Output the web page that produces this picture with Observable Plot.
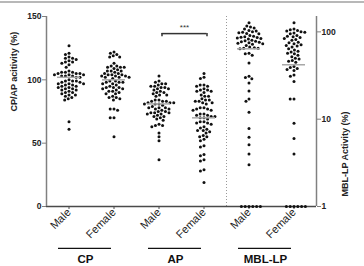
<!DOCTYPE html>
<html>
<head>
<meta charset="utf-8">
<script src="https://cdn.jsdelivr.net/npm/d3@7"></script>
<script src="https://cdn.jsdelivr.net/npm/@observablehq/plot@0.6"></script>
<style>
  body { margin: 0; background: #fff; }
  #wrap { position: relative; width: 364px; height: 266px; overflow: hidden; }
  #topline { position: absolute; left: 0; top: 1px; width: 364px; height: 2px; background: #b8b8b8; }
  #chart { position: absolute; left: 0; top: 0; }
</style>
</head>
<body>
<div id="wrap"><div id="topline"></div><div id="chart"></div></div>
<script>
// Individual activities (%) per pathway and sex
const cpMale = [127, 121, 120,
  118, 117, 117, 116, 115, 114, 114, 113, 112, 110,
  107, 106, 106, 106, 105, 105, 105, 104, 104, 104, 103, 103, 103, 102, 102,
  100, 99, 99, 99, 98, 98, 97, 97, 97, 96, 96, 95, 95, 94, 94, 93, 93, 92, 92, 91, 90, 90, 89, 88, 88, 87, 86, 85, 84,
  67, 61];
const cpFemale = [122, 121, 120, 119, 118, 118,
  113,
  111, 111, 110, 110, 110, 109,
  108, 107, 107, 107, 106,
  105, 105, 104, 104, 104, 103, 103, 103, 102, 102, 102, 101,
  99, 99, 98, 98, 98, 97, 97, 96,
  95, 94, 94, 94, 93, 93, 92,
  91, 91, 90, 89, 89,
  87, 86, 86, 85, 84,
  77, 77, 76,
  70, 70,
  55];
const apMale = [103,
  99, 98, 97, 97, 96,
  95, 95, 94, 94, 93, 93,
  92, 91, 90, 90, 89, 88, 88, 87,
  84, 84, 83, 83, 83, 82, 82, 82, 81, 81, 81, 80,
  79, 78, 78, 78, 77, 77, 76,
  75, 75, 74, 74, 74, 73, 73,
  72, 71, 71, 70, 69, 68,
  65, 64, 64, 63,
  58, 55, 52, 37];
const apFemale = [105,
  102, 101,
  96, 96, 95, 95,
  93, 92, 92, 91, 91, 90,
  88, 87, 87,
  85, 84, 84, 83, 83, 82, 82, 81,
  78, 78, 77, 77, 76, 76,
  73, 73, 72, 72, 71, 71, 70, 70, 69,
  67, 67, 66, 66, 65,
  63, 62, 61, 60, 60, 59, 58,
  56, 55, 55, 53, 52,
  48, 47,
  41, 40,
  37, 36,
  29, 28,
  19];
const mblMale = [127,
  117, 114, 111, 108,
  104, 102, 100, 99, 98, 96, 95,
  91, 89, 88, 87, 86, 85, 84, 83,
  80, 79, 78, 77, 76, 75, 74, 73, 72, 70,
  67, 66, 65, 65, 64,
  57, 56, 54, 44,
  31, 30, 29, 26, 21, 17, 16, 12,
  7.8, 6.2, 5.1, 4.0, 3.0,
  1, 1, 1, 1, 1, 1];
const mblFemale = [127,
  108, 106, 104, 102, 100, 99, 97, 95,
  91, 89, 88, 86, 84, 82, 80,
  76, 75, 73, 71, 70, 69, 67,
  64, 62, 60, 59, 57, 56,
  54, 52, 50, 49, 47, 46, 45,
  40, 39, 38, 37, 36,
  32, 31, 27,
  17, 17,
  9, 6, 4,
  1, 1, 1, 1, 1, 1];

// Group means (horizontal grey lines), same order as the series below
const means = [102, 100, 81, 70, 64, 42];

const groups = ["CP", "AP", "MBL-LP"];
const sexes = ["Male", "Female"];
const leftTicks = [0, 50, 100, 150];
const mblTicks = [1, 10, 100];

// MBL-LP is read on a log axis (1–150) that shares the 0–150 frame
const L = Math.log10(150);
const toPos = v => 150 * Math.log10(v) / L;
const fromPos = p => Math.pow(10, p * L / 150);

const series = [
  {group: "CP", sex: "Male", values: cpMale, log: false},
  {group: "CP", sex: "Female", values: cpFemale, log: false},
  {group: "AP", sex: "Male", values: apMale, log: false},
  {group: "AP", sex: "Female", values: apFemale, log: false},
  {group: "MBL-LP", sex: "Male", values: mblMale, log: true},
  {group: "MBL-LP", sex: "Female", values: mblFemale, log: true}
];
const keyOf = (g, s) => g + "|" + s;
const keys = groups.flatMap(g => sexes.map(s => keyOf(g, s)));

const points = series.flatMap(s => s.values.map(v => ({
  key: keyOf(s.group, s.sex), value: v, pos: s.log ? toPos(v) : v
})));
const meanRows = series.map((s, i) => ({
  key: keyOf(s.group, s.sex), pos: s.log ? toPos(means[i]) : means[i]
}));
const groupRows = groups.map(g => ({key: keyOf(g, "Male"), label: g}));

// annotation levels in y units (below the baseline for group labels)
const underlineLevel = -33;
const groupLabelLevel = -41.5;
const sigLevel = 136.5;
const starLevel = 141;

const chart = Plot.plot({
  width: 364,
  height: 266,
  marginTop: 16,
  marginBottom: 60,
  marginLeft: 46,
  marginRight: 48,
  style: {fontFamily: "'Liberation Sans', Arial, sans-serif", fontSize: "9px", color: "#222", background: "transparent"},
  fx: {domain: keys, padding: 0},
  x: {domain: [0, 1], axis: null},
  y: {domain: [0, 150]},
  marks: [
    // dotted separator before the MBL-LP panel
    Plot.ruleX([keyOf("MBL-LP", "Male")], {fx: d => d, x: () => 0, stroke: "#999", strokeDasharray: "1,2"}),
    // baseline
    Plot.ruleY([0], {stroke: "#4a4a4a", strokeWidth: 1.5}),
    // left and right axis lines
    Plot.ruleX([keys[0]], {fx: d => d, x: () => 0, stroke: "#808080", strokeWidth: 1.5}),
    Plot.ruleX([keys[5]], {fx: d => d, x: () => 1, stroke: "#808080", strokeWidth: 1.5}),
    Plot.axisY({anchor: "left", ticks: leftTicks, tickSize: 4, tickPadding: 1, fontWeight: "bold", fontSize: 8.5, stroke: "#808080", fill: "#222", label: null}),
    Plot.axisY({anchor: "right", ticks: mblTicks.map(toPos), tickFormat: p => String(Math.round(fromPos(p))), tickSize: 4, tickPadding: 1, fontWeight: "bold", fontSize: 8.5, stroke: "#808080", fill: "#222", label: null}),
    Plot.axisFx({anchor: "bottom", tickRotate: -45, tickFormat: k => k.split("|")[1], tickSize: 3, tickPadding: 1, fontSize: 11, stroke: "#4a4a4a", fill: "#222", label: null}),
    // axis titles
    Plot.text([keys[0]], {fx: d => d, frameAnchor: "left", dx: -32, rotate: -90, text: () => "CP/AP acitivity (%)", fontWeight: "bold", fontSize: 9, fill: "#222"}),
    Plot.text([keys[5]], {fx: d => d, frameAnchor: "right", dx: 29, rotate: -90, text: () => "MBL-LP Activity (%)", fontWeight: "bold", fontSize: 9, fill: "#222"}),
    // individual values
    Plot.dot(points, Plot.dodgeX({anchor: "middle", padding: 0.8}, {y: "pos", fx: "key", r: 1.5, fill: "#111"})),
    // means
    Plot.ruleY(meanRows, {fx: "key", y: "pos", stroke: "#a8a8a8", strokeWidth: 1.5, insetLeft: 11, insetRight: 11}),
    // group underlines and labels
    Plot.ruleY(groupRows, {fx: "key", y: () => underlineLevel, insetLeft: 12, insetRight: -20, stroke: "#111", strokeWidth: 1.2}),
    Plot.text(groupRows, {fx: "key", x: () => 1, dx: -6, y: () => groupLabelLevel, text: "label", fontWeight: "bold", fontSize: 11.5, fill: "#111"}),
    // significance bracket
    Plot.ruleY([keyOf("AP", "Male")], {fx: d => d, y: () => sigLevel, insetLeft: 25.5, stroke: "#333", strokeWidth: 1.5}),
    Plot.ruleY([keyOf("AP", "Female")], {fx: d => d, y: () => sigLevel, insetRight: 19.5, stroke: "#333", strokeWidth: 1.5}),
    Plot.ruleX([keyOf("AP", "Male"), keyOf("AP", "Female")], {fx: d => d, x: () => 0.5, dx: 3, y1: () => sigLevel - 2.5, y2: () => sigLevel, stroke: "#333", strokeWidth: 1.5}),
    Plot.text([keyOf("AP", "Male")], {fx: d => d, x: () => 1, dx: 3, y: () => starLevel, text: () => "***", fontSize: 8, fill: "#333"})
  ]
});
document.getElementById("chart").appendChild(chart);
</script>
</body>
</html>
